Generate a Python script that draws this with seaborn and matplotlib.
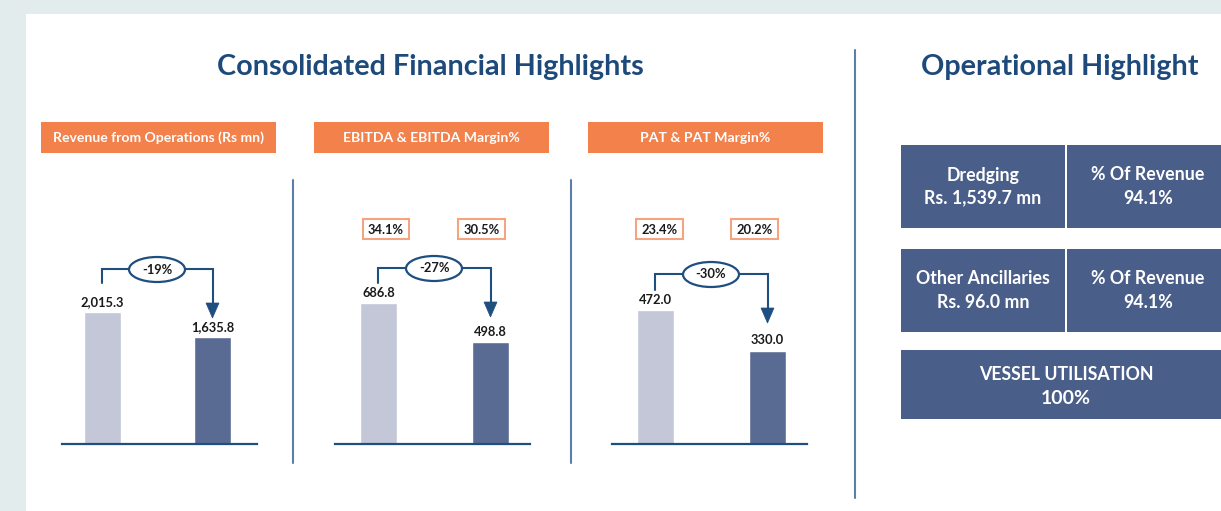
import matplotlib
matplotlib.use("Agg")
import matplotlib.pyplot as plt
from matplotlib.patches import Rectangle, Ellipse, Polygon
import seaborn as sns
import pandas as pd

# ---------------- data ----------------
periods = ["Previous", "Current"]
chart_titles = ["Revenue from Operations (Rs mn)", "EBITDA & EBITDA Margin%", "PAT & PAT Margin%"]
revenue = [2015.3, 1635.8]
ebitda = [686.8, 498.8]
pat = [472.0, 330.0]
ebitda_margin = ["34.1%", "30.5%"]
pat_margin = ["23.4%", "20.2%"]
changes = ["-19%", "-27%", "-30%"]
value_labels = [["2,015.3", "1,635.8"], ["686.8", "498.8"], ["472.0", "330.0"]]
ops_rows = [("Dredging", "Rs. 1,539.7 mn", "% Of Revenue", "94.1%"),
            ("Other Ancillaries", "Rs. 96.0 mn", "% Of Revenue", "94.1%")]
utilisation_label = "VESSEL UTILISATION"
utilisation_value = "100%"
main_title = "Consolidated Financial Highlights"
ops_title = "Operational Highlight"

# ---------------- style ----------------
W, H = 1221, 511
BG = "#e2eced"
NAVY = "#1d4a7a"
ARROW = "#1f4e80"
ORANGE = "#f2814b"
ORANGE_EDGE = "#f4a47e"
DIV = "#5b7fa6"
LIGHT = "#c3c7d8"
DARK = "#5a6b93"
BOX = "#4a5e8a"
TXT = "#1a1a1a"

sns.set_style("white")
plt.rcParams["font.family"] = ["Lato", "DejaVu Sans"]

fig = plt.figure(figsize=(W / 100, H / 100), dpi=100)
fig.patch.set_facecolor(BG)

# background panel
ax_bg = fig.add_axes([0, 0, 1, 1], zorder=0)
ax_bg.set_xlim(0, W); ax_bg.set_ylim(H, 0); ax_bg.axis("off")
ax_bg.add_patch(Rectangle((26, 14), W - 26, H - 14, facecolor="white", edgecolor="none"))

# chart geometry (pixels)
geoms = [
    dict(c0=102.5, c1=212.5, left=62, right=257, ytop=4040),
    dict(c0=378.5, c1=490.5, left=335, right=530, ytop=1288),
    dict(c0=655.5, c1=767.5, left=612, right=807, ytop=932),
]
base_y, top_y = 444, 180
series = [revenue, ebitda, pat]

axes = []
for g, vals, labs in zip(geoms, series, value_labels):
    s = g["c1"] - g["c0"]
    ax = fig.add_axes([g["left"] / W, (H - base_y) / H, (g["right"] - g["left"]) / W,
                       (base_y - top_y) / H], zorder=1)
    ax.patch.set_alpha(0)
    df = pd.DataFrame({"period": periods, "value": vals})
    sns.barplot(data=df, x="period", y="value", hue="period", palette=[LIGHT, DARK],
                width=37 / s, saturation=1, legend=False, ax=ax)
    ax.set_xlim((g["left"] - g["c0"]) / s, (g["right"] - g["c0"]) / s)
    ax.set_ylim(0, g["ytop"])
    for sp in ["top", "left", "right"]:
        ax.spines[sp].set_visible(False)
    ax.spines["bottom"].set_color(ARROW)
    ax.spines["bottom"].set_linewidth(1.6)
    ax.set_xticks([]); ax.set_yticks([])
    ax.set_xlabel(""); ax.set_ylabel("")
    for cont, lab in zip(ax.containers, labs):
        ax.bar_label(cont, labels=[lab], padding=3, fontsize=9.3, fontweight="bold",
                     color=TXT)
    axes.append(ax)

# overlay for decorations
ov = fig.add_axes([0, 0, 1, 1], zorder=2)
ov.set_xlim(0, W); ov.set_ylim(H, 0); ov.axis("off"); ov.patch.set_alpha(0)

def to_px(ax, x, y):
    dx, dy = ax.transData.transform((x, y))
    return dx, H - dy

# titles
ov.text(430, 67, main_title, ha="center", va="center", fontsize=20.7, fontweight="bold", color=NAVY)
ov.text(1060, 67, ops_title, ha="center", va="center", fontsize=20.7, fontweight="bold", color=NAVY)

# dividers
ov.plot([855, 855], [50, 498], color=DIV, lw=1.5)
for x in [293, 571]:
    ov.plot([x, x], [180, 463], color=DIV, lw=1.5)

# orange headers
for x0, t in zip([41, 314, 588], chart_titles):
    ov.add_patch(Rectangle((x0, 122), 235, 31, facecolor=ORANGE, edgecolor="none"))
    ov.text(x0 + 117.5, 138, t, ha="center", va="center", fontsize=10.1, fontweight="bold",
            color="white")

# margin boxes
margin_boxes = [(ebitda_margin, [(363, 409), (458, 505)]), (pat_margin, [(636, 683), (731, 778)])]
for labs, spans in margin_boxes:
    for lab, (a, b) in zip(labs, spans):
        ov.add_patch(Rectangle((a, 219), b - a, 20, facecolor="white", edgecolor=ORANGE_EDGE, lw=1.5))
        ov.text((a + b) / 2, 229.5, lab, ha="center", va="center", fontsize=9.3,
                fontweight="bold", color=TXT)

# change connectors
arrow_levels = [(283, 269, 318), (283, 268, 317), (290, 274, 323)]
for ax, (ys, yh, ytip), ch in zip(axes, arrow_levels, changes):
    x0, _ = to_px(ax, 0, 0)
    x1, _ = to_px(ax, 1, 0)
    x0 -= 1
    ov.plot([x0, x0, x1, x1], [ys, yh, yh, ytip - 13], color=ARROW, lw=1.5,
            solid_joinstyle="miter", zorder=2)
    ov.add_patch(Polygon([(x1 - 6.5, ytip - 15), (x1 + 6.5, ytip - 15), (x1, ytip)],
                         closed=True, facecolor=ARROW, edgecolor=ARROW, lw=0.5, zorder=2))
    xm = (x0 + x1) / 2
    ov.add_patch(Ellipse((xm, yh + 0.5), 56, 25, facecolor="white", edgecolor=ARROW, lw=1.6,
                         zorder=3))
    ov.text(xm, yh + 0.5, ch, ha="center", va="center", fontsize=9.3, fontweight="bold",
            color=TXT, zorder=4)

# operational boxes
FS = 12.8
row_tops = [145, 249]
for top, (l1, l2, r1, r2) in zip(row_tops, ops_rows):
    ov.add_patch(Rectangle((901, top), 164, 83, facecolor=BOX, edgecolor="none"))
    ov.add_patch(Rectangle((1067, top), W - 1067, 83, facecolor=BOX, edgecolor="none"))
    ov.text(983, top + 30, l1, ha="center", va="center", fontsize=FS, fontweight="bold", color="white")
    ov.text(983, top + 53, l2, ha="center", va="center", fontsize=FS, fontweight="bold", color="white")
    ov.text(1148, top + 30, r1, ha="center", va="center", fontsize=FS, fontweight="bold", color="white")
    ov.text(1148, top + 53, r2, ha="center", va="center", fontsize=FS, fontweight="bold", color="white")

ov.add_patch(Rectangle((901, 350), W - 901, 69, facecolor=BOX, edgecolor="none"))
ov.text(1066, 374, utilisation_label, ha="center", va="center", fontsize=FS, fontweight="bold", color="white")
ov.text(1066, 398, utilisation_value, ha="center", va="center", fontsize=14, fontweight="bold", color="white")

fig.savefig("out.png", dpi=100, facecolor=fig.get_facecolor())
